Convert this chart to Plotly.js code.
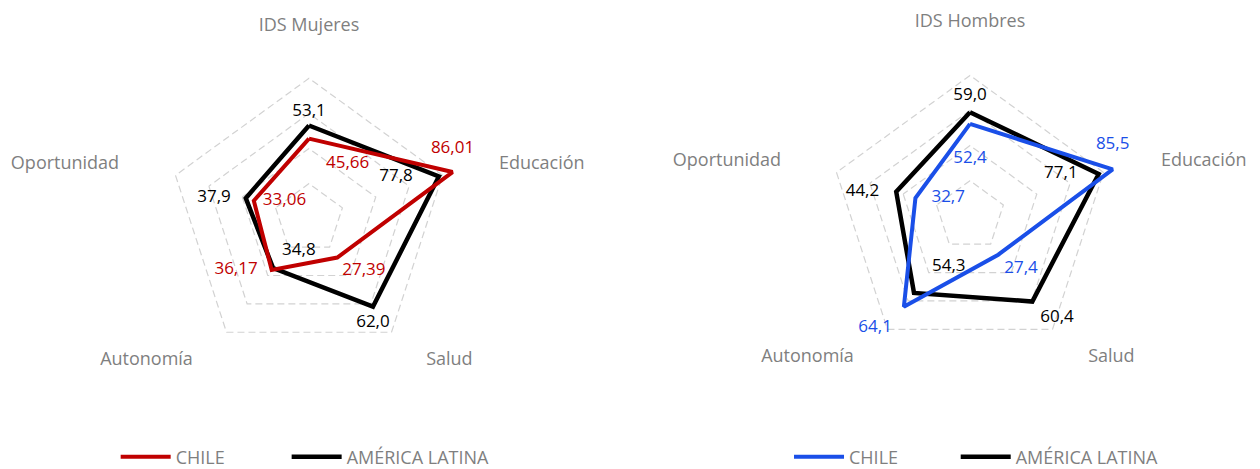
<!DOCTYPE html>
<html>
<head>
<meta charset="utf-8">
<script src="https://cdn.plot.ly/plotly-3.0.1.min.js"></script>
<style>html,body{margin:0;padding:0;background:#fff;overflow:hidden;width:1260px;height:469px;}#chart{width:1260px;height:484px;}</style>
</head>
<body>
<div id="chart"></div>
<script>
// ---- data ----
const catsMujeres = ['IDS Mujeres', 'Educación', 'Salud', 'Autonomía', 'Oportunidad'];
const catsHombres = ['IDS Hombres', 'Educación', 'Salud', 'Autonomía', 'Oportunidad'];
const chileMujeres = [45.66, 86.01, 27.39, 36.17, 33.06];
const alMujeres = [53.1, 77.8, 62.0, 34.8, 37.9];
const chileHombres = [52.4, 85.5, 27.4, 64.1, 32.7];
const alHombres = [59.0, 77.1, 60.4, 54.3, 44.2];
const seriesNames = ['CHILE', 'AMÉRICA LATINA'];
const radialMax = 100;
const radialTicks = [20, 40, 60, 80, 100];

// ---- label styling (position + offset distance in px) ----
const posChileM = ['bottom right', 'top center', 'bottom right', 'middle left', 'middle right'];
const offChileM = [17, 15, 5, 14, 9];
const posAlM = ['top center', 'middle left', 'bottom center', 'top right', 'middle left'];
const offAlM = [5, 26, 8, 9, 15];
const posChileH = ['bottom center', 'top center', 'bottom right', 'bottom left', 'middle right'];
const offChileH = [26, 16, 6, 12, 16];
const posAlH = ['top center', 'middle left', 'bottom right', 'top right', 'middle left'];
const offAlH = [8, 21, 8, 18, 17];
const posCat = ['top center', 'middle right', 'middle right', 'middle left', 'middle left'];
const offCatM = [8, 23, 14, 13, 23];
const offCatH = [9, 24, 15, 13, 22];

const RED = '#c00000', BLUE = '#1a4fe8', BLACK = '#000000', GREY = '#7f7f7f';
const FONT = '"Open Sans", "Noto Sans", sans-serif';
const fmt = (v, d) => v.toFixed(d).replace('.', ',');
const close = a => a.concat([a[0]]);
// text offset in plotly = markerRadius/0.8 + 1  ->  marker size = 1.6*(off-1)
const offToSize = o => (o <= 1 ? 0 : 1.6 * (o - 1));

function trace(cats, vals, dec, name, color, pos, off, width, polar, legend) {
  return {
    type: 'scatterpolar',
    r: close(vals),
    theta: close(cats),
    mode: 'lines+markers+text',
    text: vals.map(v => fmt(v, dec)).concat(['']),
    textposition: close(pos),
    textfont: {family: FONT, size: 17, color: color},
    marker: {size: off.map(offToSize).concat([0]), color: 'rgba(0,0,0,0)', line: {width: 0}},
    line: {color: color, width: width},
    name: name,
    subplot: polar,
    legend: legend,
    hoverinfo: 'skip',
    cliponaxis: false
  };
}

function catLabels(cats, off, polar) {
  return {
    type: 'scatterpolar',
    r: cats.map(() => radialMax),
    theta: cats,
    mode: 'markers+text',
    text: cats,
    textposition: posCat,
    textfont: {family: FONT, size: 18, color: GREY},
    marker: {size: off.map(offToSize), color: 'rgba(0,0,0,0)', line: {width: 0}},
    subplot: polar,
    showlegend: false,
    hoverinfo: 'skip',
    cliponaxis: false
  };
}

const data = [
  catLabels(catsMujeres, offCatM, 'polar'),
  catLabels(catsHombres, offCatH, 'polar2'),
  trace(catsMujeres, alMujeres, 1, seriesNames[1], BLACK, posAlM, offAlM, 4.5, 'polar', 'legend2'),
  trace(catsMujeres, chileMujeres, 2, seriesNames[0], RED, posChileM, offChileM, 4, 'polar', 'legend'),
  trace(catsHombres, alHombres, 1, seriesNames[1], BLACK, posAlH, offAlH, 4.5, 'polar2', 'legend4'),
  trace(catsHombres, chileHombres, 1, seriesNames[0], BLUE, posChileH, offChileH, 4, 'polar2', 'legend3')
];

function polarCfg(xd, yd) {
  return {
    domain: {x: xd, y: yd},
    bgcolor: 'rgba(0,0,0,0)',
    gridshape: 'linear',
    radialaxis: {
      range: [0, radialMax * 1.003], tickvals: radialTicks, showticklabels: false, ticks: '',
      showline: false, showgrid: true, gridcolor: '#d2d2d2', gridwidth: 1.2, griddash: '7px,4px',
      layer: 'below traces'
    },
    angularaxis: {
      direction: 'clockwise', rotation: 90, showgrid: false, showline: false,
      showticklabels: false, ticks: '', layer: 'below traces'
    }
  };
}

function leg(x) {
  return {
    orientation: 'h', yanchor: 'middle', y: 0.0558, xanchor: 'left', x: x,
    font: {family: FONT, size: 18, color: GREY},
    bgcolor: 'rgba(0,0,0,0)', itemwidth: 50
  };
}

const layout = {
  width: 1260, height: 484,
  margin: {l: 0, r: 0, t: 0, b: 0},
  paper_bgcolor: '#ffffff',
  showlegend: true,
  polar: polarCfg([0.10556, 0.38492], [0.18450, 0.91178]),
  polar2: polarCfg([0.63016, 0.90952], [0.19050, 0.91777]),
  legend: leg(0.0918),
  legend2: leg(0.2275),
  legend3: leg(0.6262),
  legend4: leg(0.7585)
};

Plotly.newPlot('chart', data, layout, {displayModeBar: false, staticPlot: true});
</script>
</body>
</html>
